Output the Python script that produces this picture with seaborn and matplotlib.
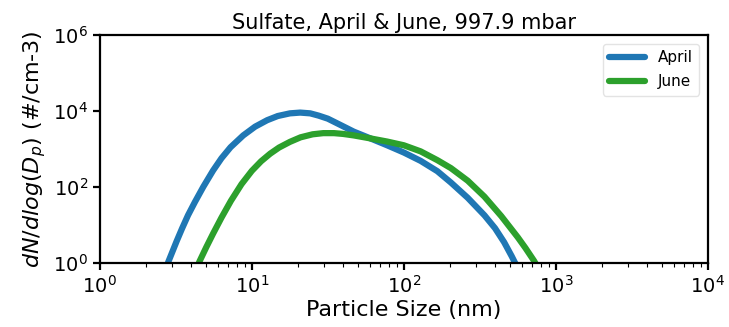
import numpy as np
import pandas as pd
import seaborn as sns
import matplotlib
matplotlib.use("Agg")
import matplotlib.pyplot as plt
from matplotlib.ticker import LogLocator, NullLocator, NullFormatter

# Particle size (nm) and dN/dlog(Dp) (#/cm-3)
april_size = [2.81, 3.02, 3.20, 3.47, 3.80, 4.22, 4.79, 5.56, 6.31, 7.24, 8.77,
              10.5, 12.6, 14.8, 17.8, 20.8, 24.2, 27.5, 31.6, 36.3, 41.7, 46.8,
              60.3, 77.6, 100, 129, 166, 204, 263, 339, 398, 457, 513, 537, 550]
april_conc = [1.05, 2.14, 3.80, 8.13, 18.2, 40.7, 102, 275, 575, 1120, 2290,
              3890, 5750, 7410, 8710, 9120, 8710, 7590, 6310, 4790, 3630, 2880,
              1910, 1260, 813, 490, 263, 132, 52.5, 18.2, 8.32, 3.55, 1.51, 1.05, 0.89]

june_size = [4.49, 5.01, 5.56, 6.31, 7.28, 8.55, 10.0, 11.5, 13.2, 15.1, 17.8,
             20.9, 25.1, 29.5, 34.7, 39.8, 46.8, 60.3, 77.6, 100, 129, 166,
             204, 263, 339, 437, 562, 631, 719, 741]
june_conc = [1.05, 2.63, 6.03, 15.8, 43.7, 120, 269, 479, 759, 1100, 1550,
             2040, 2450, 2630, 2630, 2510, 2290, 1910, 1580, 1260, 871, 513,
             316, 148, 56.2, 17.4, 4.79, 2.51, 1.15, 0.93]

title = "Sulfate, April & June, 997.9 mbar"
xlabel = "Particle Size (nm)"
ylabel = r"$dN/dlog(D_p)$ (#/cm-3)"

df = pd.concat([
    pd.DataFrame({"size": april_size, "conc": april_conc, "month": "April"}),
    pd.DataFrame({"size": june_size, "conc": june_conc, "month": "June"}),
], ignore_index=True)

sns.set_style("ticks")
plt.rcParams["font.family"] = ["DejaVu Sans"]
plt.rcParams["text.color"] = "black"
plt.rcParams["axes.labelcolor"] = "black"
plt.rcParams["xtick.color"] = "black"
plt.rcParams["ytick.color"] = "black"

fig = plt.figure(figsize=(7.29, 3.27), dpi=100)
ax = fig.add_axes([0.137, 0.195, 0.834, 0.698])

sns.lineplot(data=df, x="size", y="conc", hue="month",
             palette={"April": "#1f77b4", "June": "#2ca02c"},
             linewidth=4.5, ax=ax, sort=False, estimator=None)

ax.set_xscale("log")
ax.set_yscale("log")
ax.set_xlim(1, 1e4)
ax.set_ylim(1, 1e6)
ax.set_yticks([1, 1e2, 1e4, 1e6])
ax.yaxis.set_minor_locator(NullLocator())
ax.xaxis.set_major_locator(LogLocator(base=10, numticks=10))
ax.xaxis.set_minor_locator(LogLocator(base=10, subs=np.arange(2, 10), numticks=20))
ax.xaxis.set_minor_formatter(NullFormatter())

for s in ax.spines.values():
    s.set_color("black")
    s.set_linewidth(1.6)
ax.tick_params(axis="both", which="major", labelsize=14, length=5, width=1.6,
               color="black", labelcolor="black")
ax.tick_params(axis="x", which="minor", length=3, width=0.8, color="black")

ax.set_title(title, fontsize=15, pad=4, color="black")
ax.set_xlabel(xlabel, fontsize=16, labelpad=2, color="black")
ax.set_ylabel(ylabel, fontsize=16, labelpad=4, color="black")

leg = ax.legend(loc="upper right", fontsize=11, frameon=True, handlelength=2.4,
                labelspacing=0.6, borderaxespad=0.6)
leg.get_frame().set_edgecolor("#dddddd")
for t in leg.get_texts():
    t.set_color("black")

fig.savefig("out.png", dpi=100)
